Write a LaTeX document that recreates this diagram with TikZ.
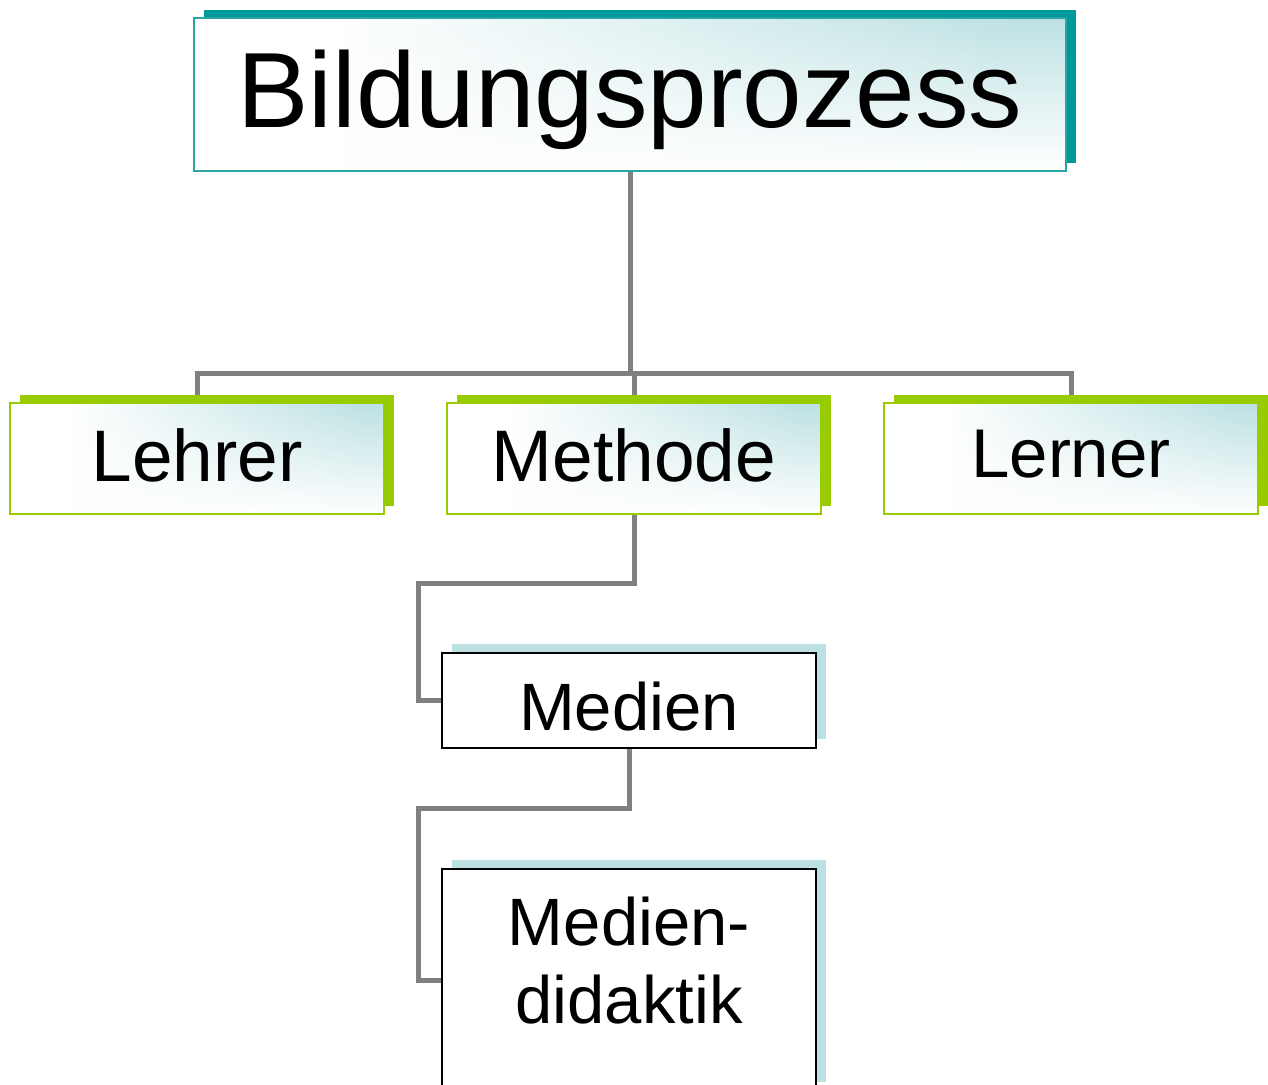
\documentclass[tikz,border=0pt]{standalone}
\usepackage{fontspec}
\setmainfont{Liberation Sans}
\usetikzlibrary{shadows,fadings}
\pgfdeclarelayer{background}
\pgfsetlayers{background,main}
\definecolor{tealshadow}{HTML}{009999}
\definecolor{tealborder}{HTML}{2AA5A5}
\definecolor{limegreen}{HTML}{99CC00}
\definecolor{paleblue}{HTML}{BDE1E3}
\definecolor{conngray}{HTML}{808080}
\pgfdeclarehorizontalshading{boxshade}{100bp}{color(0bp)=(white); color(25bp)=(white); color(33bp)=(white); color(72bp)=(paleblue); color(100bp)=(paleblue)}
\begin{document}
\begin{tikzpicture}[x=1pt,y=-1pt,
  conn/.style={draw=conngray, line width=5pt},
  gradbox/.style={rectangle, shading=boxshade, line width=1.5pt, inner sep=0pt,
    path picture={\fill[white, path fading=north] (path picture bounding box.south west) rectangle (path picture bounding box.north east);}},
  topbox/.style={gradbox, draw=tealborder, minimum width=872pt, minimum height=153pt,
    general shadow={fill=tealshadow, shadow xshift=10pt, shadow yshift=8pt},
    font=\fontsize{107}{107}\selectfont, text height=85pt, text depth=20pt},
  midbox/.style={gradbox, draw=limegreen, minimum width=374pt, minimum height=111pt,
    general shadow={fill=limegreen, shadow xshift=10pt, shadow yshift=8pt},
    font=\fontsize{73}{73}\selectfont, text height=55pt, text depth=10pt},
  lowbox/.style={rectangle, draw=black, fill=white, line width=2pt, minimum width=374pt, inner sep=0pt,
    general shadow={fill=paleblue, shadow xshift=10pt, shadow yshift=9pt},
    font=\fontsize{67}{78}\selectfont}
]
\useasboundingbox (0,0) rectangle (1268,1084);

\node[topbox] (top) at (630,94.5) {Bildungsprozess};
\node[midbox] (lehrer) at (197,458.5) {Lehrer};
\node[midbox] (methode) at (634,458.5) {Methode};
\node[midbox, font=\fontsize{69}{69}\selectfont, text height=52pt, text depth=15pt] (lerner) at (1071,458.5) {Lerner};
\node[lowbox, minimum height=95pt, text height=59pt, text depth=0pt] (medien) at (629,700.5) {Medien};
\node[lowbox, minimum height=222pt] (mdid) at (629,980)
  {\raisebox{0pt}[\height][\dimexpr\depth+23pt\relax]{\begin{tabular}{@{}c@{}}Medien-\\didaktik\end{tabular}}};

\begin{pgfonlayer}{background}
  \coordinate (bar) at (630,373);
  \coordinate (k1) at (418,583);
  \coordinate (k2) at (418,808);
  \draw[conn] (top.south) -- (bar);
  \draw[conn] (lehrer.north) |- (bar) -| (lerner.north);
  \draw[conn] (methode.north) -- (methode.north |- bar);
  \draw[conn] (methode.south) |- (k1) |- (medien.west);
  \draw[conn] (medien.south) |- (k2) |- (mdid.west);
\end{pgfonlayer}
\end{tikzpicture}
\end{document}
